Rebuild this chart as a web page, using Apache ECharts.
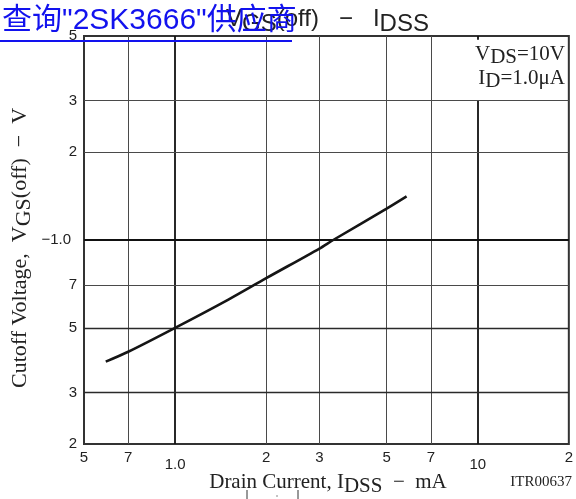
<!DOCTYPE html>
<html>
<head>
<meta charset="utf-8">
<script src="https://cdn.jsdelivr.net/npm/echarts@6/dist/echarts.min.js"></script>
<style>
html,body{margin:0;padding:0;background:#fff;}
#main{width:576px;height:499px;}
</style>
</head>
<body>
<div id="main"></div>
<script>
// ---- data ----
const idss = [0.59, 0.7, 1.0, 1.5, 2.0, 3.0, 3.33, 5.0, 5.82];       // Drain current IDSS, mA
const vgsOff = [0.383, 0.414, 0.5, 0.625, 0.74, 0.935, 1.0, 1.28, 1.41]; // |VGS(off)|, V

// ---- tick values and labels ----
const xTickValues = [0.5, 0.7, 1, 2, 3, 5, 7, 10, 20];
const xTickLabels = ['5', '7', '1.0', '2', '3', '5', '7', '10', '2'];
const yTickValues = [0.2, 0.3, 0.5, 0.7, 1, 2, 3, 5];
const yTickLabels = ['2', '3', '5', '7', '\u22121.0', '2', '3', '5'];
const xDecades = [1, 10];
const yDecades = [1];

function lookup(vals, labels, v) {
  for (let i = 0; i < vals.length; i++) {
    if (Math.abs(vals[i] - v) < 1e-6 * vals[i]) return labels[i];
  }
  return '';
}

const chart = echarts.init(document.getElementById('main'), null, {renderer: 'canvas'});

const xMin = xTickValues[0], xMax = xTickValues[xTickValues.length - 1];
const yMin = yTickValues[0], yMax = yTickValues[yTickValues.length - 1];

const thin = {color: '#4a4a4a', width: 1, type: 'solid'};
const thick = {color: '#111', width: 1.8, type: 'solid'};
const mid = {color: '#2a2a2a', width: 1.3, type: 'solid'};

const gridLines = [];
xTickValues.slice(1, -1).forEach(v => {
  const st = xDecades.includes(v) ? thick : thin;
  if (v === 10) {
    // the annotation cell hides this line in its upper part
    gridLines.push([{coord: [v, yMin], lineStyle: st}, {coord: [v, 3]}]);
    gridLines.push([{coord: [v, yMax], lineStyle: st}, {coord: [v, 4.85]}]);
  } else {
    gridLines.push({xAxis: v, lineStyle: st});
  }
});
yTickValues.slice(1, -1).forEach(v => {
  let st = thin;
  if (yDecades.includes(v)) st = thick;
  else if (v === 0.5 || v === 0.3) st = mid;
  gridLines.push({yAxis: v, lineStyle: st});
});

const curve = idss.map((x, i) => [x, vgsOff[i]]);

const serif = '"Liberation Serif","DejaVu Serif",serif';
const sans = '"Liberation Sans","DejaVu Sans",sans-serif';

chart.setOption({
  animation: false,
  backgroundColor: '#fff',
  grid: {
    left: 84, right: 2, top: 36, bottom: 55,
    show: true, borderColor: '#333', borderWidth: 2, backgroundColor: 'transparent'
  },
  xAxis: {
    type: 'log', logBase: 10, min: xMin, max: xMax,
    axisLine: {show: false}, axisTick: {show: false}, splitLine: {show: false},
    minorTick: {show: false}, minorSplitLine: {show: false},
    axisLabel: {
      customValues: xTickValues,
      margin: 6,
      formatter: v => {
        const s = lookup(xTickValues, xTickLabels, v);
        return xDecades.some(d => Math.abs(d - v) < 1e-6) ? '{d|' + s + '}' : '{n|' + s + '}';
      },
      rich: {
        n: {fontFamily: sans, fontSize: 15, color: '#222'},
        d: {fontFamily: sans, fontSize: 15, color: '#222', padding: [7, 0, 0, 0]}
      }
    }
  },
  yAxis: {
    type: 'log', logBase: 10, min: yMin, max: yMax,
    axisLine: {show: false}, axisTick: {show: false}, splitLine: {show: false},
    minorTick: {show: false}, minorSplitLine: {show: false},
    axisLabel: {
      customValues: yTickValues,
      margin: 7,
      fontFamily: sans, fontSize: 15, color: '#222',
      formatter: v => {
        const s = lookup(yTickValues, yTickLabels, v);
        return Math.abs(v - 1) < 1e-6 ? '{d|' + s + '}' : '{n|' + s + '}';
      },
      rich: {
        n: {fontFamily: sans, fontSize: 15, color: '#222'},
        d: {fontFamily: sans, fontSize: 15, color: '#222', padding: [0, 6, 0, 0]}
      }
    }
  },
  series: [
    {
      name: 'grid', type: 'line', data: curve, z: 1, silent: true,
      showSymbol: false, lineStyle: {opacity: 0},
      markLine: {
        silent: true, symbol: 'none', animation: false,
        label: {show: false},
        data: gridLines
      }
    },
    {
      name: 'VGS(off)', type: 'line', data: curve, z: 5,
      showSymbol: false, smooth: 0.3,
      lineStyle: {color: '#151515', width: 2.6}
    }
  ],
  graphic: [
    // title
    {
      type: 'text', x: 226, y: 3, z: 10,
      style: {
        text: '{n|V}{s|GS}{n|(off)   \u2212   I}{s|DSS}',
        fill: '#222',
        rich: {
          n: {fontFamily: sans, fontSize: 24, fill: '#222'},
          s: {fontFamily: sans, fontSize: 24, fill: '#222', padding: [9, 0, 0, 0]}
        }
      }
    },
    // overlapping link text
    {
      type: 'text', x: 2, y: 6, z: 20,
      style: {
        text: '\u67e5\u8be2"2SK3666"\u4f9b\u5e94\u5546',
        font: '30px "Liberation Sans","Noto Sans CJK SC",sans-serif',
        fill: '#1212ee'
      }
    },
    {
      type: 'line', z: 20,
      shape: {x1: 0, y1: 41, x2: 292, y2: 41},
      style: {stroke: '#1212ee', lineWidth: 2}
    },
    // annotation
    {
      type: 'text', x: 565, y: 40, z: 10,
      style: {
        text: '{n|V}{s|DS}{n|=10V}', align: 'right',
        rich: {
          n: {fontFamily: serif, fontSize: 21, fill: '#222'},
          s: {fontFamily: serif, fontSize: 21, fill: '#222', padding: [7, 0, 0, 0]}
        }
      }
    },
    {
      type: 'text', x: 565, y: 64, z: 10,
      style: {
        text: '{n|I}{s|D}{n|=1.0\u03bcA}', align: 'right',
        rich: {
          n: {fontFamily: serif, fontSize: 21, fill: '#222'},
          s: {fontFamily: serif, fontSize: 21, fill: '#222', padding: [7, 0, 0, 0]}
        }
      }
    },
    // y axis name
    {
      type: 'text', x: 20, y: 248, rotation: Math.PI / 2, z: 10,
      style: {
        text: '{n|Cutoff Voltage,  V}{s|GS}{n|(off)  \u2212  V}',
        align: 'center', verticalAlign: 'middle',
        rich: {
          n: {fontFamily: serif, fontSize: 22, fill: '#222'},
          s: {fontFamily: serif, fontSize: 22, fill: '#222', padding: [8, 0, 0, 0]}
        }
      }
    },
    // x axis name
    {
      type: 'text', x: 328, y: 468, z: 10,
      style: {
        text: '{n|Drain Current, I}{s|DSS}{n|  \u2212  mA}',
        align: 'center',
        rich: {
          n: {fontFamily: serif, fontSize: 21, fill: '#222'},
          s: {fontFamily: serif, fontSize: 21, fill: '#222', padding: [8, 0, 0, 0]}
        }
      }
    },
    {
      type: 'text', x: 572, y: 475, z: 10,
      style: {text: 'ITR00637', align: 'right', font: '15px ' + serif, fill: '#222'}
    },
    // small marks at the bottom edge
    {type: 'line', shape: {x1: 247, y1: 490, x2: 247, y2: 499}, style: {stroke: '#333', lineWidth: 1}},
    {type: 'line', shape: {x1: 298, y1: 490, x2: 298, y2: 499}, style: {stroke: '#333', lineWidth: 1}},
    {type: 'line', shape: {x1: 277, y1: 495, x2: 277, y2: 497}, style: {stroke: '#888', lineWidth: 1}}
  ]
});
</script>
</body>
</html>
